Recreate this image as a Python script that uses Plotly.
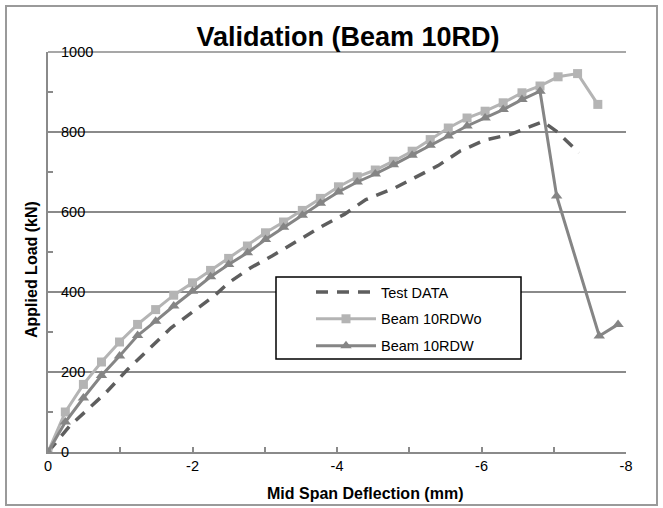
import plotly.graph_objects as go

# ---------------- data ----------------
test_x = [0, -0.3, -0.8, -1.1, -1.4, -1.7, -2.0, -2.3, -2.5, -2.8, -3.1, -3.4, -3.8, -4.1,
          -4.4, -4.8, -5.1, -5.4, -5.7, -6.05, -6.4, -6.7, -6.85, -7.05, -7.35]
test_y = [0, 65, 148, 206, 258, 310, 350, 390, 423, 460, 490, 523, 565, 594,
          631, 660, 688, 716, 752, 780, 794, 815, 826, 800, 748]

wo_x = [0, -0.24, -0.49, -0.74, -0.99, -1.24, -1.49, -1.74, -2.0, -2.25, -2.5, -2.76, -3.01,
        -3.26, -3.52, -3.77, -4.02, -4.28, -4.53, -4.78, -5.04, -5.29, -5.54, -5.8, -6.05,
        -6.3, -6.56, -6.81, -7.06, -7.33, -7.61]
wo_y = [0, 100, 169, 225, 275, 319, 356, 392, 423, 454, 484, 515, 548,
        575, 604, 634, 663, 688, 705, 727, 752, 781, 810, 835, 852,
        873, 898, 915, 938, 946, 869]

rdw_x = [0, -0.24, -0.49, -0.74, -0.99, -1.24, -1.49, -1.74, -2.0, -2.25, -2.5, -2.76, -3.01,
         -3.26, -3.52, -3.77, -4.02, -4.28, -4.53, -4.78, -5.04, -5.29, -5.54, -5.8, -6.05,
         -6.3, -6.56, -6.81, -7.04, -7.63, -7.89]
rdw_y = [0, 75, 135, 191, 240, 291, 327, 365, 402, 438, 469, 498, 531,
         562, 592, 622, 650, 675, 695, 718, 742, 767, 790, 815, 835,
         856, 881, 902, 640, 290, 319]

x_range = [0, -8]
y_range = [0, 1000]
x_tick_vals = [0, -2, -4, -6, -8]
x_tick_text = ["0", "-2", "-4", "-6", "-8"]
y_tick_vals = [0, 200, 400, 600, 800, 1000]
y_tick_text = ["0", "200", "400", "600", "800", "1000"]

title_text = "Validation (Beam 10RD)"
x_title = "Mid Span Deflection (mm)"
y_title = "Applied Load (kN)"

# ---------------- layout geometry (pixels) ----------------
W, H = 663, 508
ML, MR, MT, MB = 48, 37, 52, 56
PW, PH = W - ML - MR, H - MT - MB


def px_x(p):
    return (p - ML) / PW


def px_y(p):
    return (H - MB - p) / PH


FONT = "Liberation Sans, Arial, sans-serif"
grid = "#8a8a8a"

fig = go.Figure()
fig.add_trace(go.Scatter(x=test_x, y=test_y, name="Test DATA", mode="lines",
                         line=dict(color="#5e5e5e", width=3.5, dash="12px,9px"),
                         legendgroup="a"))
fig.add_trace(go.Scatter(x=wo_x, y=wo_y, name="Beam 10RDWo", mode="lines+markers",
                         line=dict(color="#b4b4b4", width=3),
                         marker=dict(symbol="square", size=9, color="#b4b4b4"),
                         legendgroup="b"))
fig.add_trace(go.Scatter(x=rdw_x, y=rdw_y, name="Beam 10RDW", mode="lines+markers",
                         line=dict(color="#858585", width=3),
                         marker=dict(symbol="triangle-up", size=10, color="#858585"),
                         legendgroup="c"))
# empty helper trace so the label-only overlay axis is drawn
fig.add_trace(go.Scatter(x=[None], y=[None], yaxis="y2", showlegend=False,
                         hoverinfo="skip", mode="lines"))

fig.update_layout(
    width=W, height=H,
    margin=dict(l=ML, r=MR, t=MT, b=MB),
    paper_bgcolor="white", plot_bgcolor="white",
    font=dict(family=FONT, color="black", size=14.5),
    title=dict(text="<b>" + title_text + "</b>", x=348 / W,
               xanchor="center", y=1 - 37 / H, yanchor="middle",
               font=dict(size=27, family=FONT, color="black")),
    xaxis=dict(range=x_range, tickmode="array", tickvals=x_tick_vals, ticktext=x_tick_text,
               showgrid=False, zeroline=False,
               showline=True, linecolor=grid, linewidth=1.5,
               ticks="inside", ticklen=5, tickcolor=grid, tickwidth=1.5,
               minor=dict(dtick=1, tick0=0, ticks="inside", ticklen=5, tickcolor=grid,
                          tickwidth=1.5),
               tickfont=dict(size=14.5)),
    yaxis=dict(range=y_range, dtick=200, showgrid=True, gridcolor=grid, gridwidth=1.5,
               zeroline=False, showline=True, linecolor=grid, linewidth=1.5,
               ticks="", showticklabels=False,
               minor=dict(dtick=100, ticks="inside", ticklen=5, tickcolor=grid, tickwidth=1.5,
                          showgrid=False)),
    yaxis2=dict(range=y_range, tickmode="array", tickvals=y_tick_vals, ticktext=y_tick_text,
                overlaying="y", side="right", anchor="free",
                position=px_x(60), showgrid=False, zeroline=False, showline=False,
                ticks="", tickfont=dict(size=14.5, color="black")),
    legend=dict(x=px_x(311), y=px_y(276), xanchor="left", yanchor="top",
                bgcolor="rgba(0,0,0,0)", borderwidth=0, itemwidth=60,
                tracegroupgap=5, font=dict(size=14.5)),
    showlegend=True,
)

# top gridline at the end of the y range
fig.add_shape(type="line", xref="paper", yref="paper", x0=0, x1=1, y0=1, y1=1,
              line=dict(color=grid, width=1.5), layer="below")
# legend frame (white box with black border)
fig.add_shape(type="rect", xref="paper", yref="paper",
              x0=px_x(276), x1=px_x(521), y0=px_y(359), y1=px_y(277),
              line=dict(color="black", width=1.5), fillcolor="white", layer="above")
# chart-area border
fig.add_shape(type="rect", xref="paper", yref="paper",
              x0=px_x(6), x1=px_x(657), y0=px_y(505), y1=px_y(6),
              line=dict(color="#9a9a9a", width=2), fillcolor="rgba(0,0,0,0)", layer="above")

# axis titles (placed as in the reference, off-centre)
fig.add_annotation(text="<b>" + x_title + "</b>", xref="paper", yref="paper",
                   x=px_x(365), y=px_y(493), showarrow=False, font=dict(size=16),
                   xanchor="center", yanchor="middle")
fig.add_annotation(text="<b>" + y_title + "</b>", xref="paper", yref="paper",
                   x=px_x(31), y=px_y(270), showarrow=False, font=dict(size=16),
                   textangle=-90, xanchor="center", yanchor="middle")

fig.write_html("out.html", post_script="document.body.style.margin='0';",
               config=dict(displayModeBar=False))
